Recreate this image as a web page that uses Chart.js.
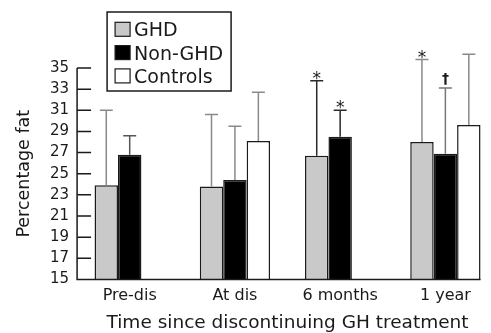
<!DOCTYPE html>
<html><head><meta charset="utf-8">
<script src="https://cdn.jsdelivr.net/npm/chart.js@4/dist/chart.umd.min.js"></script>
<style>html,body{margin:0;padding:0;overflow:hidden;background:#fff}
#wrap{position:relative;width:500px;height:333px}</style>
</head><body><div id="wrap"><canvas id="c"></canvas></div>
<script>
// ---- data ----
const categories = ['Pre-dis', 'At dis', '6 months', '1 year'];
const seriesNames = ['GHD', 'Non-GHD', 'Controls'];
const ghdMean = [23.9, 23.8, 26.7, 28.0];
const ghdSd = [7.1, 6.8, 7.1, 7.8];
const nonGhdMean = [26.8, 24.4, 28.5, 26.9];
const nonGhdSd = [1.8, 5.1, 2.5, 6.2];
const controlsMean = [null, 28.1, null, 29.6];
const controlsSd = [null, 4.6, null, 6.7];
const ghdMarks = ['', '', '*', '*'];
const nonGhdMarks = ['', '', '*', '\u2020'];
const controlsMarks = ['', '', '', ''];
const yMin = 15, yMax = 35, yStep = 2;
const xTitle = 'Time since discontinuing GH treatment';
const yTitle = 'Percentage fat';

const FONT = "'DejaVu Sans', sans-serif";
const INK = '#1a1a1a';

const errorBars = {
  id: 'errorBars',
  afterDatasetsDraw(chart) {
    const ctx = chart.ctx, ys = chart.scales.y;
    chart.data.datasets.forEach((ds, di) => {
      const meta = chart.getDatasetMeta(di);
      meta.data.forEach((bar, i) => {
        const m = ds.data[i], sd = ds.sd[i];
        if (m == null || sd == null) return;
        const x = bar.x, yTop = ys.getPixelForValue(m + sd), yBase = bar.y;
        ctx.save();
        ctx.strokeStyle = ds.whiskerColors[i];
        ctx.lineWidth = 1.5;
        ctx.beginPath();
        ctx.moveTo(x, yBase); ctx.lineTo(x, yTop);
        ctx.moveTo(x - 6.5, yTop); ctx.lineTo(x + 6.5, yTop);
        ctx.stroke();
        const mk = ds.marks[i];
        if (mk) {
          ctx.fillStyle = INK;
          ctx.textAlign = 'center';
          ctx.textBaseline = 'alphabetic';
          if (mk === '*') { ctx.font = '17px ' + FONT; ctx.fillText(mk, x, yTop + 3); }
          else { ctx.font = 'bold 14px ' + FONT; ctx.fillText(mk, x, yTop - 5); }
        }
        ctx.restore();
      });
    });
  }
};

const axesLines = {
  id: 'axesLines',
  afterDraw(chart) {
    const ctx = chart.ctx, ys = chart.scales.y, ca = chart.chartArea;
    const left = ca.left;
    const lastMeta = chart.getDatasetMeta(chart.data.datasets.length - 1);
    const lastBar = lastMeta.data[lastMeta.data.length - 1];
    const right = lastBar.x + lastBar.width / 2;
    ctx.save();
    ctx.strokeStyle = INK; ctx.lineWidth = 1.5;
    ctx.beginPath();
    ctx.moveTo(left, ys.getPixelForValue(yMax)); ctx.lineTo(left, ys.getPixelForValue(yMin));
    ctx.lineTo(right, ys.getPixelForValue(yMin));
    ys.ticks.forEach(t => {
      const py = ys.getPixelForValue(t.value);
      ctx.moveTo(left, py); ctx.lineTo(left + 14, py);
    });
    ctx.stroke();
    ctx.restore();
  }
};

const boxLegend = {
  id: 'boxLegend',
  afterDraw(chart) {
    const ctx = chart.ctx, ca = chart.chartArea;
    const bx = ca.left + 30, by = 12, bw = 124, bh = 79;
    ctx.save();
    ctx.strokeStyle = INK; ctx.lineWidth = 1.5;
    ctx.fillStyle = '#fff';
    ctx.fillRect(bx, by, bw, bh);
    ctx.strokeRect(bx, by, bw, bh);
    ctx.font = '19px ' + FONT;
    ctx.textBaseline = 'alphabetic';
    ctx.textAlign = 'left';
    chart.data.datasets.forEach((ds, i) => {
      const cy = by + 17.3 + i * 23.3;
      ctx.fillStyle = ds.backgroundColor;
      ctx.fillRect(bx + 8, cy - 7, 15, 14);
      ctx.lineWidth = 1.2;
      ctx.strokeRect(bx + 8, cy - 7, 15, 14);
      ctx.fillStyle = INK;
      ctx.fillText(ds.label, bx + 27, cy + 7);
    });
    ctx.restore();
  }
};

new Chart(document.getElementById('c'), {
  type: 'bar',
  data: {
    labels: categories,
    datasets: [
      { label: seriesNames[0], data: ghdMean, sd: ghdSd, marks: ghdMarks,
        backgroundColor: '#c9c9c9', borderColor: INK, borderWidth: 1.5,
        whiskerColors: ['#8a8a8a', '#8a8a8a', '#2a2a2a', '#8a8a8a'] },
      { label: seriesNames[1], data: nonGhdMean, sd: nonGhdSd, marks: nonGhdMarks,
        backgroundColor: '#000000', borderColor: INK, borderWidth: 1.5,
        whiskerColors: ['#555555', '#8a8a8a', '#2a2a2a', '#777777'] },
      { label: seriesNames[2], data: controlsMean, sd: controlsSd, marks: controlsMarks,
        backgroundColor: '#ffffff', borderColor: INK, borderWidth: 1.5,
        whiskerColors: ['#8a8a8a', '#8a8a8a', '#8a8a8a', '#8a8a8a'] }
    ]
  },
  options: {
    responsive: true, maintainAspectRatio: false, animation: false,
    layout: { padding: { top: 68, left: 10, right: 2, bottom: 0 } },
    datasets: { bar: { barPercentage: 1, categoryPercentage: 0.668, borderSkipped: 'bottom' } },
    plugins: { legend: { display: false }, tooltip: { enabled: false } },
    scales: {
      x: {
        grid: { display: false, drawTicks: false }, border: { display: false },
        ticks: { color: INK, font: { family: FONT, size: 16 }, padding: 7 },
        title: { display: true, text: xTitle, color: INK, font: { family: FONT, size: 18.5, lineHeight: 1.1 }, padding: { top: 0, bottom: 0 } }
      },
      y: {
        min: yMin, max: yMax,
        grid: { display: false, drawTicks: false }, border: { display: false },
        ticks: { stepSize: yStep, autoSkip: false, color: INK, font: { family: FONT, size: 15 }, padding: 8 },
        title: { display: true, text: yTitle, color: INK, font: { family: FONT, size: 17.5 }, padding: { top: 4, bottom: 7 } }
      }
    }
  },
  plugins: [errorBars, axesLines, boxLegend]
});
</script>
</body></html>
